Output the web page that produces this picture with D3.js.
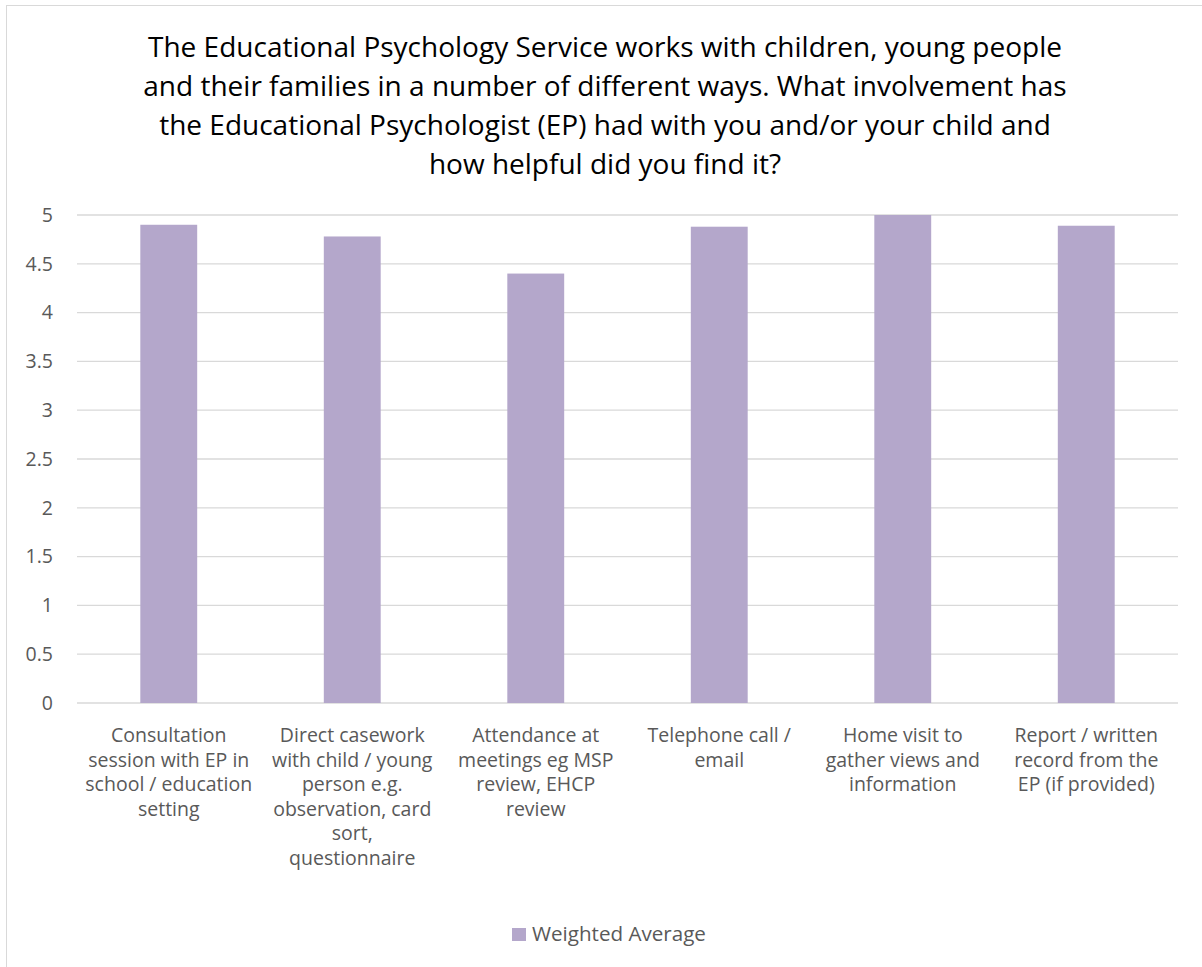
<!DOCTYPE html>
<html>
<head>
<meta charset="utf-8">
<script src="https://cdn.jsdelivr.net/npm/d3@7"></script>
<style>
  body { margin: 0; background: #fff; }
  svg { font-family: "Open Sans", "Noto Sans", sans-serif; }
</style>
</head>
<body>
<div id="chart"></div>
<script>
// chart data
const titleLines = [
    "The Educational Psychology Service works with children, young people",
    "and their families in a number of different ways. What involvement has",
    "the Educational Psychologist (EP) had with you and/or your child and",
    "how helpful did you find it?"
];
const categories = [
    ["Consultation", "session with EP in", "school / education", "setting"],
    ["Direct casework", "with child / young", "person e.g.", "observation, card", "sort,", "questionnaire"],
    ["Attendance at", "meetings eg MSP", "review, EHCP", "review"],
    ["Telephone call /", "email"],
    ["Home visit to", "gather views and", "information"],
    ["Report / written", "record from the", "EP (if provided)"]
];
const values = [4.9, 4.78, 4.4, 4.88, 5.0, 4.89];
const yTicks = [0, 0.5, 1, 1.5, 2, 2.5, 3, 3.5, 4, 4.5, 5];
const seriesName = "Weighted Average";

// setting up the svg and its dimension
var w = 1202, h = 967;
var margin = { top: 215, right: 24, bottom: 264, left: 77 },
    width = w - margin.left - margin.right,
    height = h - margin.top - margin.bottom;

var barColor = "#b4a7cb";
var textColor = "#595959";

var svg = d3.select("#chart")
    .append("svg")
    .attr("width", w)
    .attr("height", h);

// outer chart border
svg.append("rect")
    .attr("x", 6.5)
    .attr("y", 5.5)
    .attr("width", w + 10)
    .attr("height", h + 10)
    .attr("fill", "none")
    .attr("stroke", "#d9d9d9");

// title
svg.append("g")
    .selectAll("text")
    .data(titleLines)
    .join("text")
    .attr("x", 605)
    .attr("y", (d, i) => 57 + i * 39)
    .attr("text-anchor", "middle")
    .style("font-size", "28px")
    .attr("fill", "#000")
    .text(d => d);

var g = svg.append("g")
    .attr("transform", `translate(${margin.left}, ${margin.top})`);

var x = d3.scaleBand()
    .domain(d3.range(categories.length))
    .range([0, width])
    .paddingInner(0.69)
    .paddingOuter(0.345);

var y = d3.scaleLinear()
    .domain([0, 5])
    .range([height, 0]);

// gridlines
g.append("g")
    .selectAll("line")
    .data(yTicks)
    .join("line")
    .attr("x1", 0)
    .attr("x2", width)
    .attr("y1", d => y(d))
    .attr("y2", d => y(d))
    .attr("stroke", "#d9d9d9")
    .attr("stroke-width", 1.3);

// y axis labels
var yAxis = d3.axisLeft(y)
    .tickValues(yTicks)
    .tickSize(0)
    .tickPadding(24)
    .tickFormat(d => d);

g.append("g")
    .call(yAxis)
    .call(a => a.select(".domain").remove())
    .selectAll("text")
    .attr("fill", textColor)
    .style("font-family", "'Open Sans', sans-serif")
    .style("font-size", "19.5px");

// bars
g.selectAll(".bar")
    .data(values)
    .join("rect")
    .attr("class", "bar")
    .attr("x", (d, i) => x(i))
    .attr("width", x.bandwidth())
    .attr("y", d => y(d))
    .attr("height", d => height - y(d))
    .attr("fill", barColor);

// category labels, multi-line
var labels = g.append("g")
    .selectAll("text")
    .data(categories)
    .join("text")
    .attr("text-anchor", "middle")
    .attr("fill", textColor)
    .style("font-size", "19.5px")
    .attr("transform", (d, i) => `translate(${x(i) + x.bandwidth() / 2}, ${height + 39})`);

labels.selectAll("tspan")
    .data(d => d)
    .join("tspan")
    .attr("x", 0)
    .attr("y", (d, i) => i * 24.6)
    .text(d => d);

// legend
var legend = svg.append("g")
    .attr("transform", "translate(512, 928)");

legend.append("rect")
    .attr("width", 14)
    .attr("height", 13)
    .attr("fill", barColor);

legend.append("text")
    .attr("x", 20)
    .attr("y", 13)
    .attr("fill", textColor)
    .style("font-size", "20.6px")
    .text(seriesName);
</script>
</body>
</html>
